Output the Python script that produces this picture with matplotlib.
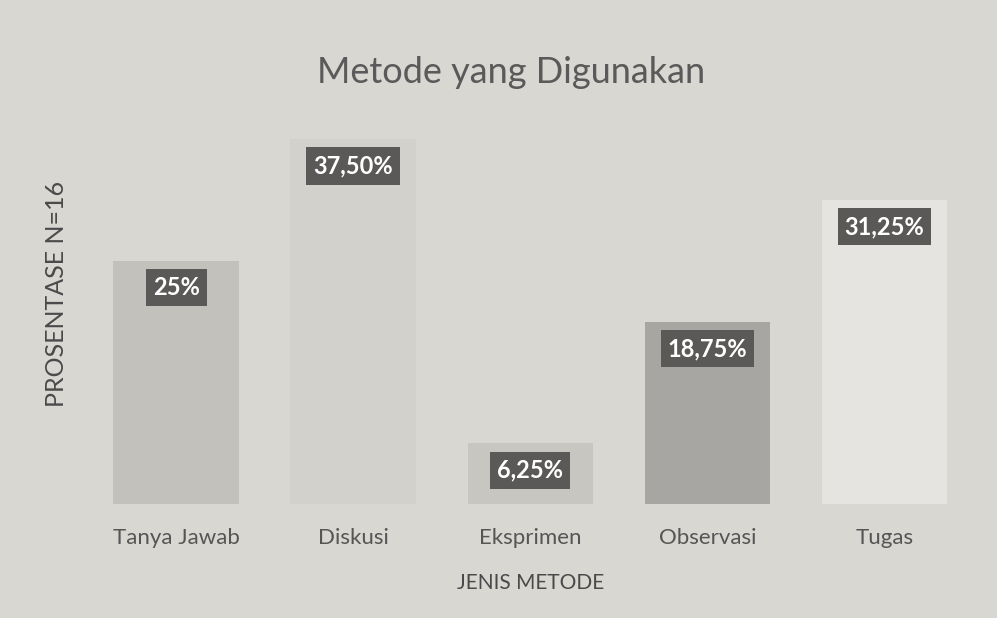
import matplotlib.pyplot as plt
import numpy as np

plt.rcParams['font.family'] = ['Lato', 'DejaVu Sans']

categories = ["Tanya Jawab", "Diskusi", "Eksprimen", "Observasi", "Tugas"]
values = [25.0, 37.5, 6.25, 18.75, 31.25]
labels = ["25%", "37,50%", "6,25%", "18,75%", "31,25%"]
bar_colors = ["#c3c1bc", "#d3d1cc", "#c8c6c1", "#a8a6a2", "#e5e4e1"]

bg = "#d9d7d2"
fig = plt.figure(figsize=(9.97, 6.18), dpi=100, facecolor=bg)
ax = fig.add_axes([0.088, 0.184, 0.888, 0.63])
ax.set_facecolor(bg)

x = np.arange(len(categories))
bars = ax.bar(x, values, width=0.71, color=bar_colors)

# value labels in dark boxes, just inside the top of each bar
for b, lab in zip(bars, labels):
    ax.annotate(lab, (b.get_x() + b.get_width() / 2, b.get_height()),
                xytext=(0, -11), textcoords="offset points",
                ha="center", va="top", fontsize=17, fontweight="bold",
                color="white",
                bbox=dict(boxstyle="square,pad=0.3", fc="#5b5957", ec="none"))

ax.set_xlim(-0.5, len(categories) - 0.5)
ax.set_ylim(0, 40)
ax.set_xticks(x)
ax.set_xticklabels(categories, fontsize=16, color="#555555")
ax.tick_params(axis="x", length=0, pad=17)
ax.set_yticks([])
for s in ax.spines.values():
    s.set_visible(False)

ax.set_xlabel("JENIS METODE", fontsize=15, color="#4a4a4a", labelpad=18)
ax.set_ylabel("PROSENTASE N=16", fontsize=18, color="#4a4a4a")
ax.yaxis.set_label_coords(-0.022, 0.54)
fig.suptitle("Metode yang Digunakan", fontsize=26, color="#5a5a5a",
             x=0.513, y=0.91)

fig.savefig("out.png", dpi=100, facecolor=bg)
